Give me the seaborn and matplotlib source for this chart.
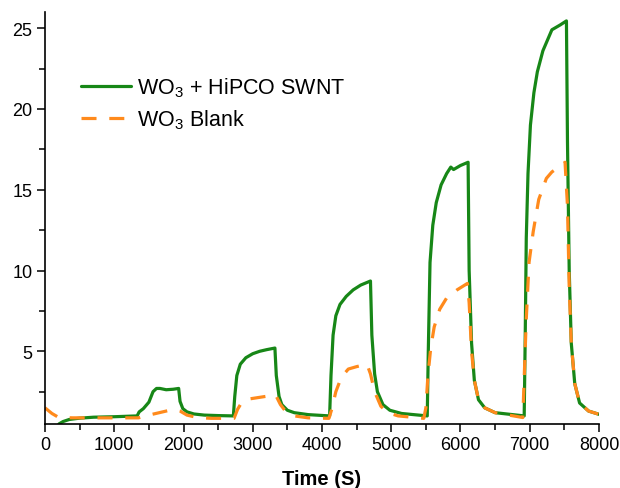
import numpy as np
import pandas as pd
import matplotlib.pyplot as plt
import seaborn as sns
from matplotlib.ticker import MultipleLocator

# ---- data ----
time_swnt = [200, 260, 350, 500, 700, 1000, 1330, 1360, 1420, 1500, 1560, 1610, 1660, 1750, 1850, 1930,
             1950, 1990, 2050, 2150, 2300, 2500, 2720,
             2740, 2770, 2820, 2900, 3000, 3100, 3200, 3320, 3340, 3380, 3420, 3500, 3600, 3800, 4110,
             4130, 4160, 4200, 4260, 4350, 4450, 4560, 4700, 4720, 4760, 4800, 4880, 4980, 5150, 5520,
             5535, 5560, 5600, 5650, 5720, 5800, 5860, 5900, 6000, 6110, 6125, 6160, 6200, 6260, 6350, 6500, 6920,
             6935, 6950, 6975, 7010, 7060, 7110, 7190, 7250, 7320, 7440, 7530, 7545, 7570, 7600, 7650, 7720, 7850, 8000]
resp_swnt = [0.5, 0.65, 0.78, 0.86, 0.92, 0.95, 1.0, 1.25, 1.45, 1.85, 2.5, 2.7, 2.7, 2.62, 2.65, 2.7,
             1.9, 1.45, 1.25, 1.12, 1.05, 1.02, 1.0,
             2.2, 3.5, 4.2, 4.6, 4.85, 5.0, 5.1, 5.2, 3.5, 2.2, 1.7, 1.35, 1.2, 1.08, 1.0,
             3.5, 6.0, 7.2, 7.9, 8.4, 8.8, 9.1, 9.35, 6.0, 3.6, 2.5, 1.7, 1.35, 1.15, 1.0,
             5.0, 10.5, 12.8, 14.2, 15.3, 16.0, 16.4, 16.25, 16.5, 16.7, 10.0, 5.5, 3.2, 2.0, 1.5, 1.2, 1.0,
             6.0, 12.0, 16.0, 19.0, 21.0, 22.3, 23.6, 24.2, 24.9, 25.2, 25.45, 18.0, 10.0, 5.5, 3.0, 1.8, 1.3, 1.1]

time_blank = [0, 100, 200, 400, 800, 1100, 1350, 1500, 1700, 1850, 1950, 2050, 2200, 2400, 2730,
              2780, 2850, 2950, 3100, 3250, 3330, 3400, 3480, 3600, 3800, 4100,
              4140, 4200, 4280, 4380, 4500, 4650, 4700, 4760, 4850, 4950, 5100, 5470,
              5500, 5530, 5570, 5620, 5700, 5800, 5950, 6100, 6125, 6160, 6200, 6260, 6350, 6500, 6900,
              6950, 6990, 7050, 7130, 7240, 7320, 7420, 7510, 7545, 7570, 7600, 7650, 7720, 7850, 8000]
resp_blank = [1.5, 1.15, 0.9, 0.88, 0.88, 0.88, 0.88, 1.05, 1.25, 1.4, 1.3, 1.05, 0.9, 0.85, 0.85,
              1.4, 1.9, 2.05, 2.15, 2.25, 2.3, 1.7, 1.25, 1.0, 0.88, 0.85,
              1.4, 2.5, 3.4, 3.9, 4.05, 4.2, 3.6, 2.5, 1.6, 1.2, 1.0, 0.85,
              1.5, 3.5, 5.2, 6.5, 7.6, 8.3, 8.8, 9.2, 8.0, 5.0, 3.2, 2.0, 1.5, 1.2, 0.9,
              7.0, 10.5, 12.4, 14.4, 15.7, 16.1, 16.4, 16.7, 14.0, 9.0, 5.5, 3.0, 1.8, 1.3, 1.1]

label_swnt = r"WO$_3$ + HiPCO SWNT"
label_blank = r"WO$_3$ Blank"

df_swnt = pd.DataFrame({"time": time_swnt, "resp": resp_swnt})
df_blank = pd.DataFrame({"time": time_blank, "resp": resp_blank})

sns.set_style("ticks")
plt.rcParams["font.family"] = ["Liberation Sans", "DejaVu Sans"]
plt.rcParams["mathtext.fontset"] = "custom"
plt.rcParams["mathtext.rm"] = "Liberation Sans"
plt.rcParams["text.color"] = "black"
plt.rcParams["axes.labelcolor"] = "black"
plt.rcParams["xtick.color"] = "black"
plt.rcParams["ytick.color"] = "black"

DASH = (4.7, 4.0)

fig = plt.figure(figsize=(6.2, 4.89), dpi=100)
ax = fig.add_axes([0.0726, 0.1309, 0.8935, 0.8425])

sns.lineplot(data=df_swnt, x="time", y="resp", ax=ax, color="#178717", lw=2.3,
             label=label_swnt, sort=False)
sns.lineplot(data=df_blank, x="time", y="resp", ax=ax, color="#ff8a1c", lw=2.3,
             label=label_blank, sort=False)
ax.lines[1].set_dashes(DASH)

ax.set_xlim(0, 8000)
ax.set_ylim(0.5, 26)
ax.set_yticks([5, 10, 15, 20, 25])
ax.xaxis.set_minor_locator(MultipleLocator(500))
ax.yaxis.set_minor_locator(MultipleLocator(2.5))
ax.tick_params(which="major", direction="out", length=6, width=1.1, labelsize=13, pad=3)
ax.tick_params(which="minor", direction="out", length=4, width=1.1)
for s in ["top", "right"]:
    ax.spines[s].set_visible(False)
for s in ["left", "bottom"]:
    ax.spines[s].set_color("black")
    ax.spines[s].set_linewidth(1.2)

ax.set_xlabel("Time (S)", fontsize=14.5, fontweight="bold", labelpad=11)
ax.set_ylabel("")

leg = ax.legend(loc="upper left", bbox_to_anchor=(0.03, 0.893), frameon=False,
                fontsize=15.5, handlelength=2.3, handletextpad=0.3, labelspacing=0.4)
leg.get_lines()[1].set_dashes(DASH)

fig.savefig("out.png", dpi=100)
